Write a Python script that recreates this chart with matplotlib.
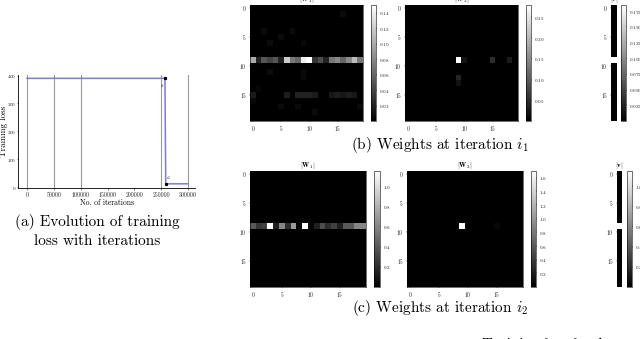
import numpy as np
import matplotlib
matplotlib.use("Agg")
import matplotlib.pyplot as plt

plt.rcParams['font.family'] = 'serif'
plt.rcParams['font.serif'] = ['cmr10', 'DejaVu Serif']
plt.rcParams['mathtext.fontset'] = 'cm'
plt.rcParams['axes.formatter.use_mathtext'] = True

# ---------------- data ----------------
# training loss curve
iters = [0, 257000, 258500, 300000]
loss = [390, 390, 12, 12]
x_ticks = [0, 50000, 100000, 150000, 200000, 250000, 300000]
y_ticks = [0, 100, 200, 300, 400]
grid_x = [0, 50000, 100000, 250000, 300000]
i1_point = (257000, 390)
i2_point = (258500, 12)

N = 20
# |W1| at iteration i1 : row 9 values, row 15 values, scattered faint cells
w1_b_row9 = [0.10, 0.02, 0.05, 0.04, 0.05, 0.02, 0.12, 0.07, 0.06, 0.14,
             0.15, 0.03, 0.045, 0.02, 0.07, 0.08, 0.06, 0.08, 0.11, 0.07]
w1_b_row15 = [0.016, 0.0, 0.0, 0.0, 0.0, 0.0, 0.018, 0.0, 0.02, 0.02,
              0.02, 0.016, 0.0, 0.0, 0.014, 0.018, 0.014, 0.018, 0.014, 0.0]
w1_b_faint = [(1, 16, 0.006), (4, 2, 0.006), (4, 7, 0.007), (5, 5, 0.006),
              (6, 3, 0.006), (6, 9, 0.005), (11, 3, 0.007), (11, 9, 0.006),
              (12, 9, 0.005), (17, 5, 0.006), (17, 8, 0.006), (18, 11, 0.006),
              (17, 19, 0.006), (16, 0, 0.005), (14, 1, 0.004)]
# |W2| at iteration i1
w2_b_cells = [(9, 9, 0.28), (9, 10, 0.02), (9, 15, 0.05), (9, 18, 0.03),
              (12, 9, 0.04), (13, 9, 0.02)]
# |v| at iteration i1
v_b = [0.0, 0.0, 0.0, 0.0, 0.0, 0.0, 0.0, 0.0, 0.0, 0.185,
       0.0, 0.0, 0.0, 0.0, 0.0, 0.0, 0.0, 0.0, 0.0, 0.0]

# |W1| at iteration i2 : row 9 values
w1_c_row9 = [0.40, 0.25, 0.30, 1.15, 0.15, 0.60, 0.20, 0.70, 0.02, 1.15,
             0.02, 0.15, 0.35, 0.20, 0.30, 0.15, 0.40, 0.40, 0.60, 0.60]
# |W2| at iteration i2
w2_c_cells = [(9, 9, 1.70), (9, 15, 0.05)]
# |v| at iteration i2
v_c = [0.0, 0.0, 0.0, 0.0, 0.0, 0.0, 0.0, 0.0, 0.0, 1.15,
       0.0, 0.0, 0.0, 0.0, 0.0, 0.0, 0.0, 0.0, 0.0, 0.0]

cb_ticks_w1_b = [0.02, 0.04, 0.06, 0.08, 0.10, 0.12, 0.14]
cb_ticks_w2_b = [0.05, 0.10, 0.15, 0.20, 0.25]
cb_ticks_v_b = [0.025, 0.050, 0.075, 0.100, 0.125, 0.150, 0.175]
cb_ticks_w1_c = [0.2, 0.4, 0.6, 0.8, 1.0]
cb_ticks_w2_c = [0.2, 0.4, 0.6, 0.8, 1.0, 1.2, 1.4, 1.6]
cb_ticks_v_c = [0.2, 0.4, 0.6, 0.8, 1.0]
hm_ticks = [0, 5, 10, 15]

# build matrices
W1_b = np.zeros((N, N))
W1_b[9, :] = w1_b_row9
W1_b[15, :] = w1_b_row15
for r, c, val in w1_b_faint:
    W1_b[r, c] = val
W2_b = np.zeros((N, N))
for r, c, val in w2_b_cells:
    W2_b[r, c] = val
W1_c = np.zeros((N, N))
W1_c[9, :] = w1_c_row9
W2_c = np.zeros((N, N))
for r, c, val in w2_c_cells:
    W2_c[r, c] = val

# ---------------- figure ----------------
W, H = 640, 339
fig = plt.figure(figsize=(W / 100, H / 100), dpi=100)


def box(x0, y0, x1, y1):
    return [x0 / W, 1 - y1 / H, (x1 - x0) / W, (y1 - y0) / H]


TXT = '#222222'
TFS = 4.0

# ---- (a) loss ----
ax = fig.add_axes(box(18, 75, 195, 188))
for gx in grid_x:
    ax.axvline(gx, color='#9a9a9a', lw=0.8, zorder=1)
ax.plot(iters, loss, color='#7878f0', lw=1.1, zorder=3)
ax.plot(*i1_point, 's', color='black', ms=1.3, zorder=4)
ax.plot(*i2_point, 's', color='black', ms=1.3, zorder=4)
ax.text(i1_point[0] - 5000, i1_point[1] - 12, '$i_1$', fontsize=3.5, ha='center', va='top', color=TXT)
ax.text(i2_point[0] + 6000, i2_point[1] + 8, '$i_2$', fontsize=3.5, ha='center', va='bottom', color=TXT)
ax.set_xlim(-16800, 313000)
ax.set_ylim(-3, 402)
ax.set_xticks(x_ticks)
ax.set_xticklabels([str(t) for t in x_ticks])
ax.set_yticks(y_ticks)
ax.tick_params(axis='x', labelsize=4.2, length=1.2, width=0.4, pad=1.5, colors=TXT)
ax.tick_params(axis='y', labelsize=3.6, length=0.8, width=0.4, pad=0.6, colors=TXT)
for s in ['top', 'right']:
    ax.spines[s].set_visible(False)
for s in ['left', 'bottom']:
    ax.spines[s].set_linewidth(0.6)
ax.set_xlabel('No. of iterations', fontsize=5.5, labelpad=1)
ax.set_ylabel('Training loss', fontsize=6.5)
ax.yaxis.set_label_coords(-0.057, 0.5)
fig.text(97 / W, 1 - 222 / H, '(a) Evolution of training', fontsize=11, ha='center', va='center')
fig.text(97 / W, 1 - 241 / H, 'loss with iterations', fontsize=11, ha='center', va='center')


def heat(data, hm_box, cb_box, ticks, title, vec=False):
    a = fig.add_axes(box(*hm_box))
    im = a.imshow(data, cmap='gray', aspect='auto', interpolation='nearest',
                  vmin=0, vmax=np.max(data))
    a.set_yticks(hm_ticks)
    if vec:
        a.set_xticks([])
        for s in a.spines.values():
            s.set_visible(False)
    else:
        a.set_xticks(hm_ticks)
        for s in a.spines.values():
            s.set_linewidth(0.4)
    a.tick_params(labelsize=TFS, length=0.8, width=0.3, pad=1.5, colors=TXT)
    a.set_title(title, fontsize=5, pad=0.5)
    c = fig.add_axes(box(*cb_box))
    cb = fig.colorbar(im, cax=c, ticks=ticks)
    cb.outline.set_linewidth(0.4)
    c.tick_params(labelsize=3.6, length=0.8, width=0.3, pad=1.2, colors=TXT)
    return a


heat(W1_b, (250, 5, 363, 121), (371, 5, 376, 121), cb_ticks_w1_b, r'$|\mathbf{W}_1|$')
heat(W2_b, (405, 5, 518, 121), (526, 5, 531, 121), cb_ticks_w2_b, r'$|\mathbf{W}_2|$')
heat(np.array(v_b)[:, None], (611, 5, 617, 121), (621, 5, 626, 121), cb_ticks_v_b,
     r'$|\mathbf{v}|$', vec=True)
fig.text(440 / W, 1 - 145 / H, '(b) Weights at iteration $i_1$', fontsize=11, ha='center', va='center')

heat(W1_c, (250, 171, 366, 287), (374, 171, 380, 287), cb_ticks_w1_c, r'$|\mathbf{W}_1|$')
heat(W2_c, (407, 171, 523, 287), (531, 171, 536, 287), cb_ticks_w2_c, r'$|\mathbf{W}_2|$')
heat(np.array(v_c)[:, None], (617, 171, 622, 287), (627, 171, 632, 287), cb_ticks_v_c,
     r'$|\mathbf{v}|$', vec=True)
fig.text(440 / W, 1 - 308 / H, '(c) Weights at iteration $i_2$', fontsize=11, ha='center', va='center')

fig.text(482 / W, 1 - 348.5 / H, 'Training loss landscape', fontsize=11, ha='left', va='baseline')

fig.savefig('out.png', dpi=100)
